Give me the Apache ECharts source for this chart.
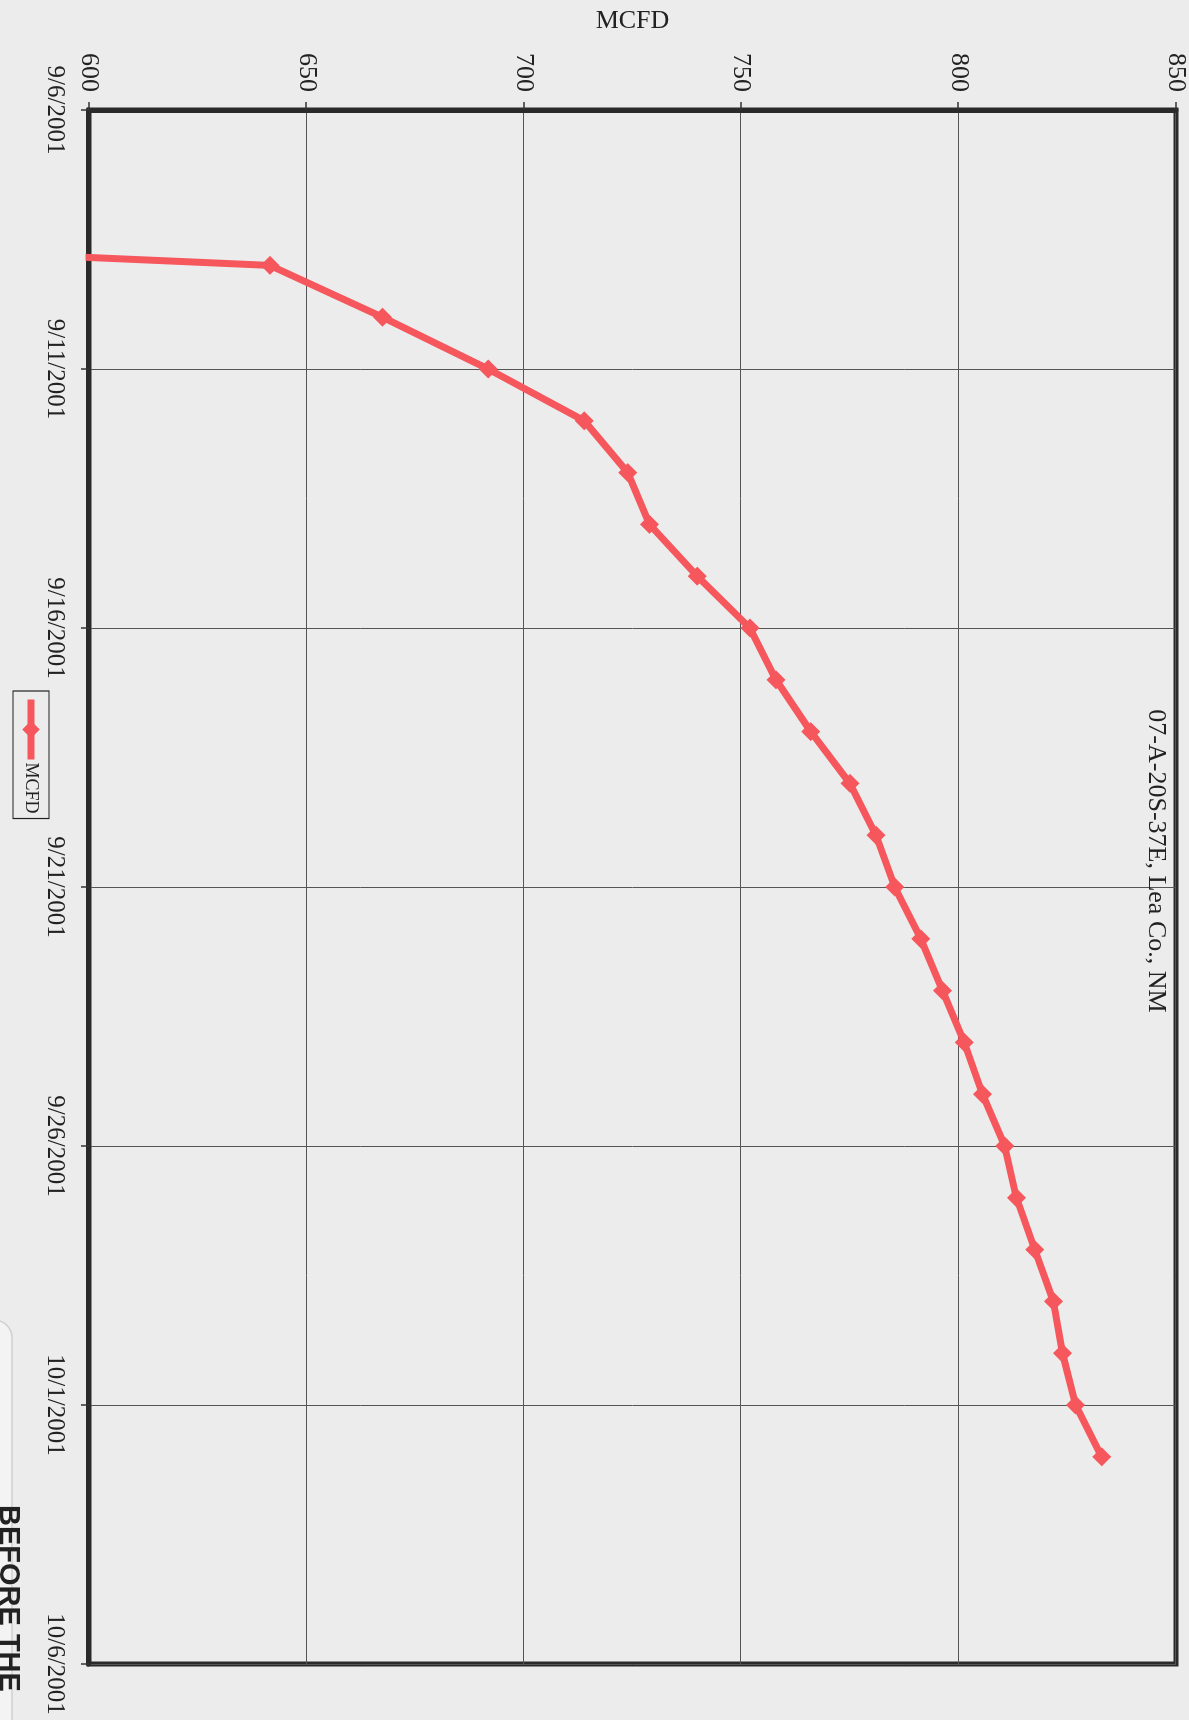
<!DOCTYPE html>
<html>
<head>
<meta charset="utf-8">
<script src="https://cdn.jsdelivr.net/npm/echarts@6/dist/echarts.min.js"></script>
<style>
  html, body { margin: 0; padding: 0; background: #ececec; width: 1189px; height: 1720px; overflow: hidden; }
  #rot { position: absolute; left: 0; top: 0; width: 1720px; height: 1189px;
         transform-origin: 0 0; transform: translate(1189px, 0) rotate(90deg); }
</style>
</head>
<body>
<div id="rot"></div>
<script>
// ---- data ----
const dates = ['2001-09-08','2001-09-09','2001-09-10','2001-09-11','2001-09-12','2001-09-13',
  '2001-09-14','2001-09-15','2001-09-16','2001-09-17','2001-09-18','2001-09-19','2001-09-20',
  '2001-09-21','2001-09-22','2001-09-23','2001-09-24','2001-09-25','2001-09-26','2001-09-27',
  '2001-09-28','2001-09-29','2001-09-30','2001-10-01','2001-10-02'];
const mcfd = [370, 641.6, 667.5, 691.8, 713.9, 723.9, 728.9, 739.9, 752, 758, 766, 775, 781,
  785.3, 791.3, 796.3, 801.3, 805.5, 810.6, 813.3, 817.5, 821.8, 823.9, 826.9, 832.9];
const dateAxisMin = '2001-09-06';
const dateAxisMax = '2001-10-06';
const dateStepDays = 5;
const valueMin = 600, valueMax = 850, valueStep = 50;
const seriesName = 'MCFD';
const subtitle = '07-A-20S-37E, Lea Co., NM';
const stampText = 'BEFORE THE';

function ts(s) { const p = s.split('-').map(Number); return Date.UTC(p[0], p[1] - 1, p[2]); }
function fmt(v) { const d = new Date(v); return (d.getUTCMonth() + 1) + '/' + d.getUTCDate() + '/' + d.getUTCFullYear(); }

const chart = echarts.init(document.getElementById('rot'), null, { renderer: 'canvas' });
const serif = '"Liberation Serif", "DejaVu Serif", serif';
const red = '#f5575d';

chart.setOption({
  backgroundColor: '#ececec',
  animation: false,
  title: {
    text: subtitle,
    left: 856, top: 15, textAlign: 'center',
    textStyle: { fontFamily: serif, fontSize: 26, fontWeight: 'normal', color: '#222' }
  },
  legend: {
    data: [seriesName],
    left: 691, top: 1140,
    padding: [9, 5, 9, 5],
    itemWidth: 60, itemHeight: 22, itemGap: 0,
    backgroundColor: '#ececec', borderColor: '#222', borderWidth: 1.2,
    lineStyle: { width: 7, color: red },
    itemStyle: { color: red },
    textStyle: { fontFamily: serif, fontSize: 18, color: '#222', padding: [0, 0, 0, -2] },
    z: 20
  },
  graphic: [
    { type: 'rect', z: -1, silent: true,
      shape: { x: 1320, y: 1177, width: 460, height: 120, r: 18 },
      style: { fill: '#f3f3f3', stroke: '#cfcfcf', lineWidth: 1.5 } },
    { type: 'text', z: 30, silent: true, x: 1505, y: 1166,
      style: { text: stampText, fontFamily: '"Liberation Sans", Arial, sans-serif', fontWeight: 'bold',
               fontSize: 29, fill: '#222', textVerticalAlign: 'top' } }
  ],
  grid: { left: 108, right: 56, top: 13, bottom: 89, show: true, backgroundColor: '#ececec',
          borderColor: '#2a2a2a', borderWidth: 5 },
  xAxis: {
    type: 'value',
    min: ts(dateAxisMin), max: ts(dateAxisMax), interval: dateStepDays * 86400000,
    axisLine: { show: true, lineStyle: { color: '#2a2a2a', width: 5 } },
    axisTick: { show: true, length: 8, lineStyle: { color: '#333', width: 1.5 } },
    splitLine: { show: true, lineStyle: { color: '#555', width: 1 } },
    axisLabel: { formatter: fmt, margin: 22, fontFamily: serif, fontSize: 25, color: '#222' }
  },
  yAxis: {
    type: 'value',
    min: valueMin, max: valueMax, interval: valueStep,
    name: seriesName, nameLocation: 'middle', nameRotate: 90, nameGap: 76,
    nameTextStyle: { fontFamily: serif, fontSize: 26, color: '#222' },
    axisLine: { show: true, lineStyle: { color: '#2a2a2a', width: 5 } },
    axisTick: { show: true, length: 8, lineStyle: { color: '#333', width: 1.5 } },
    splitLine: { show: true, lineStyle: { color: '#555', width: 1 } },
    axisLabel: { margin: 18, fontFamily: serif, fontSize: 26, color: '#222' }
  },
  series: [{
    name: seriesName,
    type: 'line',
    clip: true,
    data: dates.map((d, i) => [ts(d), mcfd[i]]),
    symbol: 'diamond', symbolSize: 19,
    lineStyle: { color: red, width: 7 },
    itemStyle: { color: red },
    z: 5
  }]
});
</script>
</body>
</html>
